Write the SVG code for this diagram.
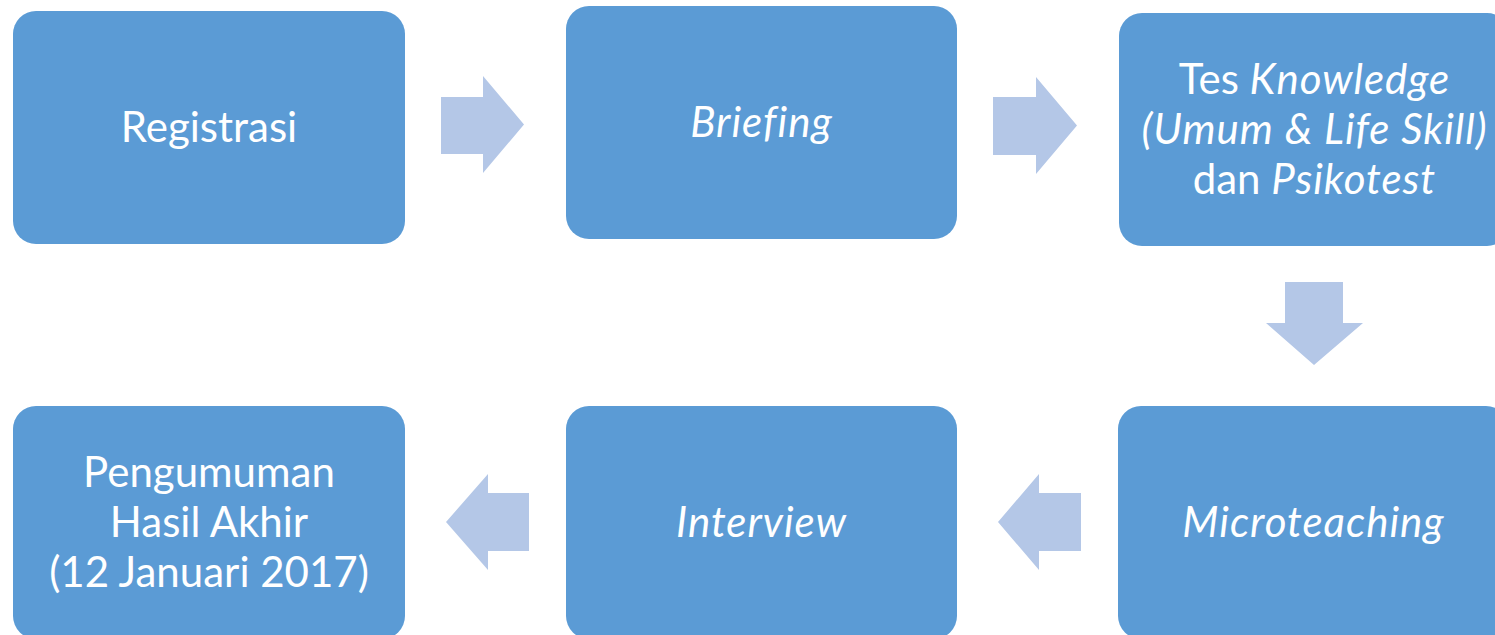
<svg xmlns="http://www.w3.org/2000/svg" width="1495" height="635" viewBox="0 0 1495 635">
<style>
.box{fill:#5B9BD5;}
.arr{fill:#B4C7E7;}
.t{fill:#FFFFFF;font-family:Lato,"Liberation Sans",sans-serif;font-size:42px;text-anchor:middle;}
.i{font-style:italic;letter-spacing:1px;}
</style>
<rect width="1495" height="635" fill="#FFFFFF"/>
<g id="connectors">
<polygon class="arr" points="441,97 483,97 483,76 524,124.5 483,173 483,154 441,154"/>
<polygon class="arr" points="993,97 1036,97 1036,77 1077,125.5 1036,174 1036,155 993,155"/>
<polygon class="arr" points="1285,282 1343,282 1343,323 1363,323 1314,365 1266,323 1285,323"/>
<polygon class="arr" points="1081,493 1039,493 1039,474 998,522 1039,570 1039,551 1081,551"/>
<polygon class="arr" points="529,493 488,493 488,474 446,522 488,570 488,551 529,551"/>
</g>
<g id="node-registrasi">
<rect class="box" x="13" y="11" width="392" height="233" rx="23"/>
<text class="t" x="209" y="142">Registrasi</text>
</g>
<g id="node-briefing">
<rect class="box" x="566" y="6" width="391" height="233" rx="23"/>
<text class="t i" x="761.5" y="137">Briefing</text>
</g>
<g id="node-tes">
<rect class="box" x="1119" y="13" width="391" height="233" rx="23"/>
<text class="t" x="1314.5" y="94">Tes <tspan class="i">Knowledge</tspan></text>
<text class="t i" x="1314.5" y="144">(Umum &amp; Life Skill)</text>
<text class="t" x="1314.5" y="194">dan <tspan class="i">Psikotest</tspan></text>
</g>
<g id="node-microteaching">
<rect class="box" x="1118" y="406" width="391" height="233" rx="23"/>
<text class="t i" x="1313.5" y="537">Microteaching</text>
</g>
<g id="node-interview">
<rect class="box" x="566" y="406" width="391" height="233" rx="23"/>
<text class="t i" x="761.5" y="537">Interview</text>
</g>
<g id="node-pengumuman">
<rect class="box" x="13" y="406" width="392" height="233" rx="23"/>
<text class="t" x="209" y="487">Pengumuman</text>
<text class="t" x="209" y="537">Hasil Akhir</text>
<text class="t" x="209" y="587">(12 Januari 2017)</text>
</g>
</svg>
